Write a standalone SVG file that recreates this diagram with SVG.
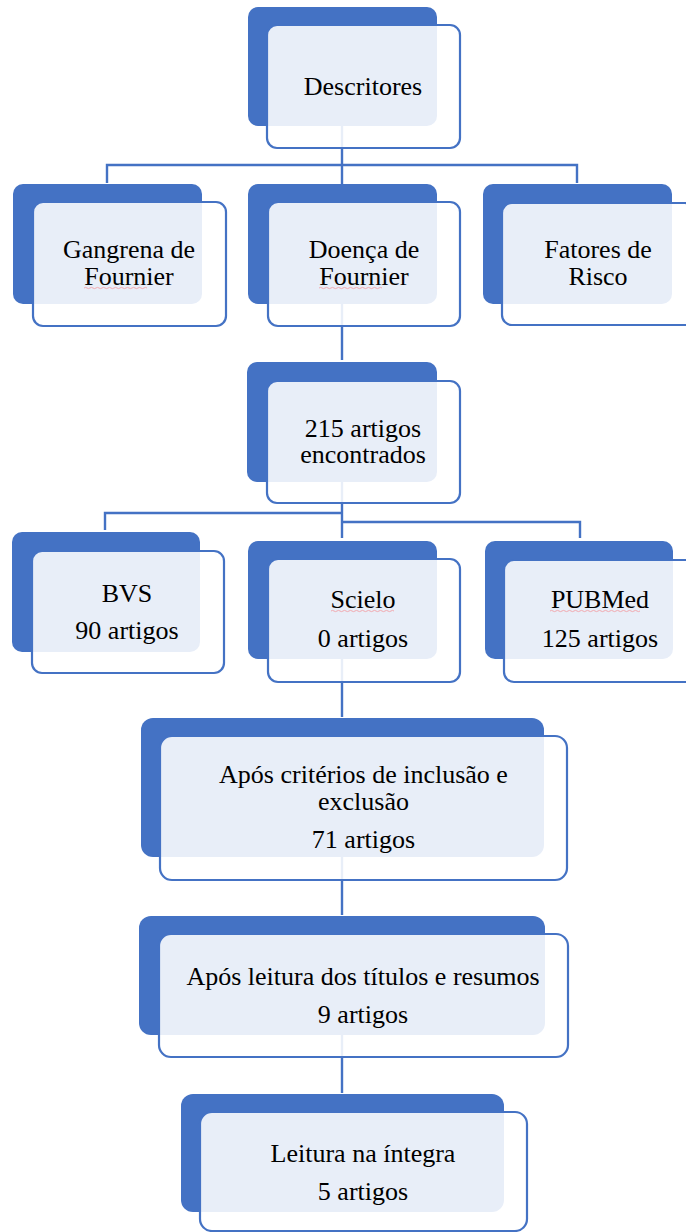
<svg xmlns="http://www.w3.org/2000/svg" width="686" height="1232" viewBox="0 0 686 1232">
<style>
.dk{fill:#4472C4}
.ol{fill:#FFFFFF;fill-opacity:0.88;stroke:#4472C4;stroke-width:2.2}
.ln{fill:none;stroke:#4472C4;stroke-width:2.4}
.t{font-family:'Liberation Serif','Times New Roman','DejaVu Serif',serif;font-size:26px;fill:#000000;text-anchor:middle}
.sq{fill:none;stroke:#F2A9B0;stroke-width:1}
</style>
<rect width="686" height="1232" fill="#FFFFFF"/>
<g id="connectors">
<path class="ln" d="M342 126 V165 M107 183 V165 H577 V183 M342 165 V184"/>
<path class="ln" d="M342 304 V360"/>
<path class="ln" d="M342 482 V538 M105 530 V513 H342 M342 522 H580 V538"/>
<path class="ln" d="M342 659 V717"/>
<path class="ln" d="M342 857 V915"/>
<path class="ln" d="M342 1035 V1093"/>
</g>
<g id="descritores">
<rect class="dk" x="248" y="7" width="189" height="119" rx="10"/>
<rect class="ol" x="267" y="25" width="193" height="123" rx="10"/>
<text class="t" x="363" y="95" font-family="Liberation Serif, serif">Descritores</text>
</g>
<g id="gangrena">
<rect class="dk" x="13" y="184" width="189" height="120" rx="10"/>
<rect class="ol" x="33" y="202" width="193" height="124" rx="10"/>
<text class="t" x="129" y="258">Gangrena de</text>
<text class="t" x="129" y="285">Fournier</text>
<path class="sq" d="M84 288 q1.5 -1.2 3 0 t3 0 t3 0 t3 0 t3 0 t3 0 t3 0 t3 0 t3 0 t3 0 t3 0 t3 0 t3 0 t3 0 t3 0 t3 0 t3 0 t3 0 t3 0 t3 0 t3 0"/>
</g>
<g id="doenca">
<rect class="dk" x="248" y="184" width="189" height="120" rx="10"/>
<rect class="ol" x="268" y="202" width="192" height="124" rx="10"/>
<text class="t" x="364" y="258">Doença de</text>
<text class="t" x="364" y="285">Fournier</text>
<path class="sq" d="M319 288 q1.5 -1.2 3 0 t3 0 t3 0 t3 0 t3 0 t3 0 t3 0 t3 0 t3 0 t3 0 t3 0 t3 0 t3 0 t3 0 t3 0 t3 0 t3 0 t3 0 t3 0 t3 0 t3 0"/>
</g>
<g id="fatores">
<rect class="dk" x="483" y="184" width="189" height="120" rx="10"/>
<rect class="ol" x="502" y="203" width="193" height="122" rx="10"/>
<text class="t" x="598" y="258">Fatores de</text>
<text class="t" x="598" y="285">Risco</text>
</g>
<g id="encontrados">
<rect class="dk" x="247" y="362" width="190" height="120" rx="10"/>
<rect class="ol" x="267" y="381" width="193" height="122" rx="10"/>
<text class="t" x="363" y="437">215 artigos</text>
<text class="t" x="363" y="463">encontrados</text>
</g>
<g id="bvs">
<rect class="dk" x="12" y="532" width="188" height="120" rx="10"/>
<rect class="ol" x="32" y="551" width="192" height="122" rx="10"/>
<text class="t" x="127" y="602">BVS</text>
<text class="t" x="127" y="639">90 artigos</text>
</g>
<g id="scielo">
<rect class="dk" x="248" y="541" width="189" height="118" rx="10"/>
<rect class="ol" x="268" y="559" width="192" height="123" rx="10"/>
<text class="t" x="363" y="608">Scielo</text>
<text class="t" x="363" y="647">0 artigos</text>
<path class="sq" d="M331 611 q1.5 -1.2 3 0 t3 0 t3 0 t3 0 t3 0 t3 0 t3 0 t3 0 t3 0 t3 0 t3 0 t3 0 t3 0 t3 0 t3 0 t3 0 t3 0 t3 0 t3 0 t3 0 t3 0"/>
</g>
<g id="pubmed">
<rect class="dk" x="485" y="541" width="188" height="118" rx="10"/>
<rect class="ol" x="504" y="560" width="193" height="122" rx="10"/>
<text class="t" x="600" y="608">PUBMed</text>
<text class="t" x="600" y="647">125 artigos</text>
<path class="sq" d="M550 611 q1.5 -1.2 3 0 t3 0 t3 0 t3 0 t3 0 t3 0 t3 0 t3 0 t3 0 t3 0 t3 0 t3 0 t3 0 t3 0 t3 0 t3 0 t3 0 t3 0 t3 0 t3 0 t3 0 t3 0 t3 0 t3 0 t3 0 t3 0 t3 0 t3 0 t3 0 t3 0"/>
</g>
<g id="criterios">
<rect class="dk" x="141" y="718" width="403" height="139" rx="12"/>
<rect class="ol" x="160" y="736" width="407" height="144" rx="12"/>
<text class="t" x="363.5" y="783">Após critérios de inclusão e</text>
<text class="t" x="363.5" y="810">exclusão</text>
<text class="t" x="363.5" y="848">71 artigos</text>
</g>
<g id="titulos">
<rect class="dk" x="139" y="916" width="406" height="119" rx="12"/>
<rect class="ol" x="159" y="934" width="409" height="123" rx="12"/>
<text class="t" x="363" y="985">Após leitura dos títulos e resumos</text>
<text class="t" x="363" y="1023">9 artigos</text>
</g>
<g id="integra">
<rect class="dk" x="181" y="1094" width="323" height="118" rx="12"/>
<rect class="ol" x="200" y="1112" width="327" height="119" rx="12"/>
<text class="t" x="363" y="1162">Leitura na íntegra</text>
<text class="t" x="363" y="1200">5 artigos</text>
</g>
</svg>
